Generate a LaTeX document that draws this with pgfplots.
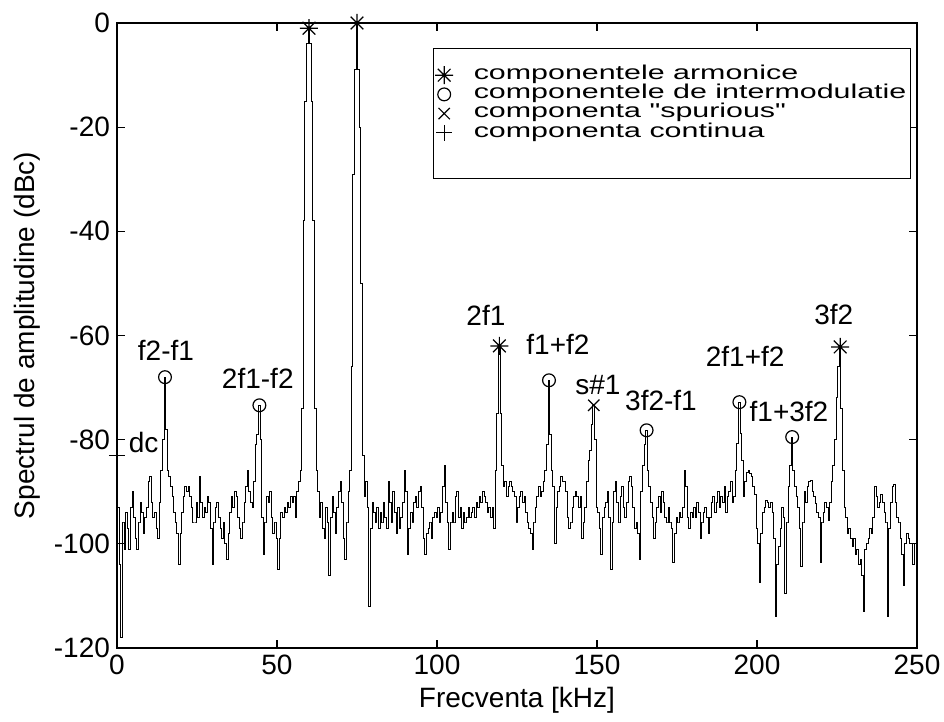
\documentclass[border=0pt]{standalone}
\usepackage{fontspec}
\setmainfont{Liberation Sans}
\newfontfamily\plainfont{Liberation Sans}
\usepackage{graphicx}
\usepackage{pgfplots}
\pgfplotsset{compat=1.18}
\pgfdeclareplotmark{mstar}{%
  \pgfpathmoveto{\pgfpoint{0pt}{\pgfplotmarksize}}\pgfpathlineto{\pgfpoint{0pt}{-\pgfplotmarksize}}%
  \pgfpathmoveto{\pgfpoint{\pgfplotmarksize}{0pt}}\pgfpathlineto{\pgfpoint{-\pgfplotmarksize}{0pt}}%
  \pgfpathmoveto{\pgfpoint{.707\pgfplotmarksize}{.707\pgfplotmarksize}}\pgfpathlineto{\pgfpoint{-.707\pgfplotmarksize}{-.707\pgfplotmarksize}}%
  \pgfpathmoveto{\pgfpoint{-.707\pgfplotmarksize}{.707\pgfplotmarksize}}\pgfpathlineto{\pgfpoint{.707\pgfplotmarksize}{-.707\pgfplotmarksize}}%
  \pgfusepathqstroke}
\newcommand{\lf}{\fontsize{14}{16}\selectfont}
\newcommand{\legf}{\plainfont\fontsize{10}{10}\selectfont}
\newcommand{\lt}[1]{\scalebox{1.52}[1]{#1}}
\begin{document}
\begin{tikzpicture}
\useasboundingbox (-58.5pt,-37pt) rectangle (413.5pt,324pt);
\begin{axis}[
  at={(0,0)}, anchor=south west,
  scale only axis, width=400pt, height=312.5pt,
  xmin=0, xmax=250, ymin=-120, ymax=0,
  xtick={0,50,100,150,200,250},
  xticklabels={0,50,100,150,200,250},
  ytick={-120,-100,-80,-60,-40,-20,0},
  yticklabels={-120,-100,-80,-60,-40,-20,0},
  tick align=inside, major tick length=4pt,
  tick style={black, line width=0.6pt},
  axis line style={line width=0.7pt},
  tick label style={font=\lf},
  label style={font=\lf},
  xlabel={Frecventa [kHz]},
  ylabel={Spectrul de amplitudine (dBc)},
  xlabel style={at={(axis description cs:0.5,-0.083)}, anchor=center},
  ylabel style={at={(axis description cs:-0.1125,0.5)}, anchor=center},
  legend style={at={(0.395,0.96)}, anchor=north west, draw=black, line width=0.6pt,
    inner xsep=0pt, inner ysep=8.5pt, row sep=0pt, font=\legf,
    nodes={inner ysep=0pt, inner xsep=2pt, text height=7pt, text depth=2.6pt}},
  legend cell align=left,
  legend image code/.code={\path (0pt,0pt) (17.5pt,0pt); \draw[#1] plot coordinates {(5pt,0pt)};},
]
\addplot[black, line width=0.5pt, const plot mark mid, forget plot] coordinates {
(0,-86) (0.5,-93) (1,-104) (1.5,-118) (2,-96) (2.5,-101) (3,-94) (3.5,-97) (4,-101) (4.5,-93)
(5,-90) (5.5,-95) (6,-99) (6.5,-101) (7,-96) (7.5,-92) (8,-94) (8.5,-98) (9,-95) (9.5,-93)
(10,-88) (10.5,-87) (11,-92) (11.5,-95) (12,-94) (12.5,-97) (13,-99) (13.5,-92) (14,-86) (14.5,-80)
(15,-68) (15.5,-78) (16,-86) (16.5,-87) (17,-89) (17.5,-91) (18,-94) (18.5,-96) (19,-98) (19.5,-104)
(20,-98) (20.5,-94) (21,-91) (21.5,-89) (22,-90) (22.5,-89) (23,-91) (23.5,-93) (24,-96) (24.5,-96)
(25,-92) (25.5,-95) (26,-87) (26.5,-92) (27,-95) (27.5,-93) (28,-94) (28.5,-91) (29,-92) (29.5,-97)
(30,-104) (30.5,-96) (31,-93) (31.5,-92) (32,-95) (32.5,-97) (33,-99) (33.5,-96) (34,-100) (34.5,-103)
(35,-98) (35.5,-94) (36,-91) (36.5,-93) (37,-90) (37.5,-91) (38,-95) (38.5,-97) (39,-99) (39.5,-96)
(40,-92) (40.5,-89) (41,-86) (41.5,-90) (42,-92) (42.5,-93) (43,-88) (43.5,-81) (44,-79) (44.5,-73.4)
(45,-80) (45.5,-95) (46,-102) (46.5,-96) (47,-91) (47.5,-92) (48,-90) (48.5,-95) (49,-98) (49.5,-96)
(50,-99) (50.5,-105) (51,-99) (51.5,-94) (52,-95) (52.5,-93) (53,-94) (53.5,-92) (54,-93) (54.5,-91)
(55,-92) (55.5,-91) (56,-95) (56.5,-90) (57,-88) (57.5,-86) (58,-74) (58.5,-38) (59,-15) (59.5,-4)
(60,-1) (60.5,-4) (61,-15) (61.5,-38) (62,-74) (62.5,-86) (63,-90) (63.5,-95) (64,-92) (64.5,-97)
(65,-99) (65.5,-93) (66,-96) (66.5,-106) (67,-95) (67.5,-91) (68,-94) (68.5,-98) (69,-93) (69.5,-90)
(70,-88) (70.5,-92) (71,-99) (71.5,-103) (72,-96) (72.5,-90) (73,-86) (73.5,-66) (74,-29) (74.5,-9)
(75,0) (75.5,-9) (76,-20) (76.5,-50) (77,-83) (77.5,-91) (78,-88) (78.5,-93) (79,-112) (79.5,-97)
(80,-92) (80.5,-94) (81,-96) (81.5,-93) (82,-97) (82.5,-94) (83,-96) (83.5,-92) (84,-95) (84.5,-97)
(85,-88) (85.5,-92) (86,-96) (86.5,-90) (87,-94) (87.5,-98) (88,-93) (88.5,-97) (89,-95) (89.5,-92)
(90,-86) (90.5,-90) (91,-102) (91.5,-97) (92,-94) (92.5,-96) (93,-92) (93.5,-91) (94,-93) (94.5,-90)
(95,-89) (95.5,-93) (96,-99) (96.5,-102) (97,-98) (97.5,-97) (98,-96) (98.5,-99) (99,-95) (99.5,-94)
(100,-95) (100.5,-93) (101,-96) (101.5,-94) (102,-89) (102.5,-85) (103,-92) (103.5,-96) (104,-101) (104.5,-96)
(105,-94) (105.5,-96) (106,-91) (106.5,-90) (107,-95) (107.5,-93) (108,-97) (108.5,-94) (109,-96) (109.5,-95)
(110,-93) (110.5,-95) (111,-94) (111.5,-93) (112,-95) (112.5,-92) (113,-93) (113.5,-91) (114,-92) (114.5,-90)
(115,-91) (115.5,-92) (116,-94) (116.5,-93) (117,-95) (117.5,-93) (118,-97) (118.5,-86) (119,-75) (119.5,-62)
(120,-75) (120.5,-85) (121,-89) (121.5,-88) (122,-91) (122.5,-89) (123,-88) (123.5,-89) (124,-90) (124.5,-91)
(125,-96) (125.5,-93) (126,-91) (126.5,-90) (127,-92) (127.5,-91) (128,-94) (128.5,-96) (129,-97) (129.5,-98)
(130,-101) (130.5,-96) (131,-93) (131.5,-91) (132,-89) (132.5,-91) (133,-90) (133.5,-88) (134,-86) (134.5,-81)
(135,-68.6) (135.5,-79) (136,-86) (136.5,-89) (137,-100) (137.5,-93) (138,-90) (138.5,-89) (139,-87) (139.5,-88)
(140,-88) (140.5,-90) (141,-95) (141.5,-97) (142,-96) (142.5,-93) (143,-91) (143.5,-90) (144,-91) (144.5,-93)
(145,-91) (145.5,-99) (146,-96) (146.5,-93) (147,-88) (147.5,-84) (148,-82) (148.5,-77) (149,-73.4) (149.5,-80)
(150,-93) (150.5,-94) (151,-97) (151.5,-102) (152,-95) (152.5,-93) (153,-92) (153.5,-90) (154,-95) (154.5,-105)
(155,-96) (155.5,-90) (156,-88) (156.5,-92) (157,-96) (157.5,-91) (158,-89) (158.5,-93) (159,-95) (159.5,-92)
(160,-88) (160.5,-87) (161,-89) (161.5,-93) (162,-97) (162.5,-96) (163,-98) (163.5,-103) (164,-90) (164.5,-85)
(165,-81) (165.5,-78.2) (166,-86) (166.5,-89) (167,-92) (167.5,-95) (168,-99) (168.5,-96) (169,-93) (169.5,-91)
(170,-94) (170.5,-90) (171,-92) (171.5,-95) (172,-96) (172.5,-93) (173,-96) (173.5,-97) (174,-103.5) (174.5,-98)
(175,-95) (175.5,-96) (176,-94) (176.5,-95) (177,-93) (177.5,-86) (178,-89) (178.5,-95) (179,-97) (179.5,-94)
(180,-95) (180.5,-93) (181,-95) (181.5,-92) (182,-94) (182.5,-99) (183,-96) (183.5,-94) (184,-93) (184.5,-95)
(185,-98) (185.5,-95) (186,-92) (186.5,-91) (187,-94) (187.5,-92) (188,-90) (188.5,-93) (189,-91) (189.5,-92)
(190,-89) (190.5,-94) (191,-91) (191.5,-90) (192,-88) (192.5,-92) (193,-91) (193.5,-86) (194,-80.7) (194.5,-72.8)
(195,-78.8) (195.5,-84) (196,-91) (196.5,-88) (197,-86.3) (197.5,-86) (198,-86.5) (198.5,-87) (199,-89) (199.5,-90.5)
(200,-97) (200.5,-100) (201,-107.5) (201.5,-98) (202,-94) (202.5,-93) (203,-91.6) (203.5,-92) (204,-93) (204.5,-92)
(205,-94) (205.5,-99) (206,-113.9) (206.5,-104) (207,-100.6) (207.5,-97) (208,-93) (208.5,-95) (209,-109.5) (209.5,-96)
(210,-89) (210.5,-85) (211,-79.5) (211.5,-86) (212,-89) (212.5,-91) (213,-93) (213.5,-97) (214,-104.4) (214.5,-96)
(215,-90) (215.5,-92) (216,-89) (216.5,-88) (217,-87.8) (217.5,-90) (218,-91) (218.5,-92.3) (219,-94) (219.5,-95)
(220,-103.5) (220.5,-96) (221,-94) (221.5,-92) (222,-93) (222.5,-95.6) (223,-92) (223.5,-88) (224,-85) (224.5,-80)
(225,-72) (225.5,-66) (226,-62.2) (226.5,-74) (227,-86) (227.5,-93) (228,-95) (228.5,-98) (229,-97) (229.5,-99)
(230,-100.6) (230.5,-99) (231,-102) (231.5,-101) (232,-104) (232.5,-103) (233,-106) (233.5,-113) (234,-101) (234.5,-100)
(235,-99) (235.5,-97) (236,-98) (236.5,-95) (237,-89) (237.5,-91) (238,-93) (238.5,-92) (239,-90.5) (239.5,-92)
(240,-94) (240.5,-96) (241,-114) (241.5,-97) (242,-92) (242.5,-89) (243,-88.7) (243.5,-92) (244,-95) (244.5,-96)
(245,-99) (245.5,-102) (246,-108) (246.5,-100) (247,-98) (247.5,-99) (248,-100) (248.5,-100) (249,-104) (249.5,-100)
(250,-100)
};
\addplot[black, only marks, mark=mstar, mark size=4.5pt, line width=0.6pt] coordinates {(60,-1) (75,0) (119.5,-62) (226,-62.2)};
\addlegendentry{\lt{componentele armonice}}
\addplot[black, only marks, mark=o, mark size=3.2pt, line width=0.6pt] coordinates {(15,-68) (44.5,-73.4) (135,-68.6) (165.5,-78.2) (194.5,-72.8) (211,-79.5)};
\addlegendentry{\lt{componentele de intermodulatie}}
\addplot[black, only marks, mark=x, mark size=4pt, line width=0.6pt] coordinates {(149,-73.4)};
\addlegendentry{\lt{componenta "spurious"}}
\addplot[black, only marks, mark=+, mark size=4pt, line width=0.6pt] coordinates {(0,-83)};
\addlegendentry{\lt{componenta continua}}
\addlegendimage{empty legend}
\addlegendentry{}
\node[font=\lf, anchor=west] at (axis cs:1.5,-80.5) {dc};
\node[font=\lf] at (axis cs:15.3,-62.8) {f2-f1};
\node[font=\lf] at (axis cs:44,-68.2) {2f1-f2};
\node[font=\lf] at (axis cs:115.3,-56.1) {2f1};
\node[font=\lf] at (axis cs:137.8,-61.8) {f1+f2};
\node[font=\lf] at (axis cs:150.3,-69.5) {s\#1};
\node[font=\lf] at (axis cs:170,-72.4) {3f2-f1};
\node[font=\lf] at (axis cs:196.3,-64.1) {2f1+f2};
\node[font=\lf] at (axis cs:210,-74.5) {f1+3f2};
\node[font=\lf] at (axis cs:224,-55.9) {3f2};
\end{axis}
\end{tikzpicture}
\end{document}
